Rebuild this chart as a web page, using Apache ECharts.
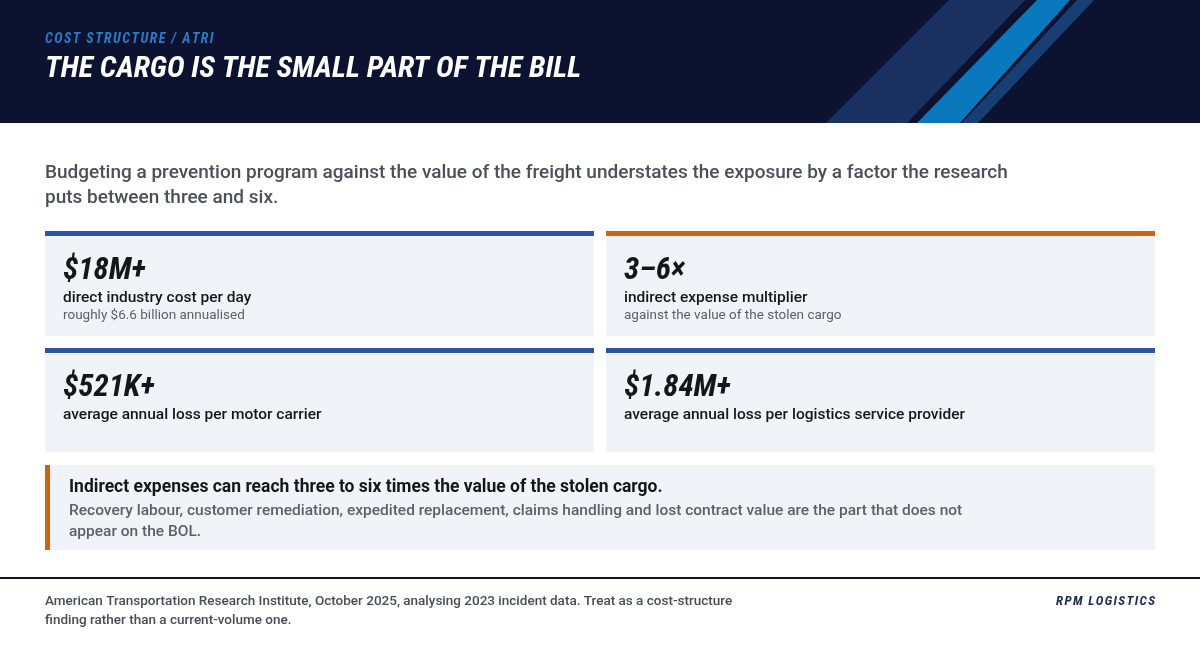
<!DOCTYPE html>
<html><head><meta charset="utf-8">
<script src="https://cdn.jsdelivr.net/npm/echarts@6/dist/echarts.min.js"></script>
<style>html,body{margin:0;padding:0;background:#fff}#main{width:1200px;height:658px}</style>
</head><body><div id="main"></div>
<script>
// content
var kicker = 'COST STRUCTURE / ATRI';
var title = 'THE CARGO IS THE SMALL PART OF THE BILL';
var lead = ['Budgeting a prevention program against the value of the freight understates the exposure by a factor the research',
            'puts between three and six.'];
var statValues = ['$18M+', '3\u20136\u00d7', '$521K+', '$1.84M+'];
var statLabels = ['direct industry cost per day', 'indirect expense multiplier',
                  'average annual loss per motor carrier', 'average annual loss per logistics service provider'];
var statNotes = ['roughly $6.6 billion annualised', 'against the value of the stolen cargo', '', ''];
var statAccent = ['blue', 'orange', 'blue', 'blue'];
var calloutHead = 'Indirect expenses can reach three to six times the value of the stolen cargo.';
var calloutBody = ['Recovery labour, customer remediation, expedited replacement, claims handling and lost contract value are the part that does not',
                   'appear on the BOL.'];
var source = ['American Transportation Research Institute, October 2025, analysing 2023 incident data. Treat as a cost-structure',
              'finding rather than a current-volume one.'];
var brand = 'RPM LOGISTICS';

var COND = '"Roboto Condensed", Roboto, sans-serif';
var SANS = 'Roboto, "Noto Sans", sans-serif';
var colors = { blue: '#2b55a0', orange: '#c8670f' };

var g = [];
// header
g.push({ type: 'rect', shape: { x: 0, y: 0, width: 1200, height: 123 }, style: { fill: '#0c1230' } });
g.push({ type: 'polygon', shape: { points: [[949, 0], [1025, 0], [907, 123], [826, 123]] }, style: { fill: '#1a3262' } });
g.push({ type: 'polygon', shape: { points: [[1037, 0], [1070, 0], [960, 123], [917, 123]] }, style: { fill: '#0a78bd' } });
g.push({ type: 'polygon', shape: { points: [[1077, 0], [1094, 0], [978, 123], [962, 123]] }, style: { fill: '#173f74' } });
g.push({ type: 'text', x: 45, y: 39, style: { text: kicker.split('').join('\u200a'), fill: '#2a7cc4', font: 'italic bold 14px ' + COND, verticalAlign: 'middle' } });
g.push({ type: 'text', x: 45, y: 69, style: { text: title, fill: '#ffffff', font: 'italic bold 30px ' + COND, verticalAlign: 'middle' } });

// lead
lead.forEach(function (t, i) {
  g.push({ type: 'text', x: 45, y: 173 + i * 25, style: { text: t, fill: '#4a4f5a', font: '500 19px ' + SANS, verticalAlign: 'middle' } });
});

// stat cards
for (var i = 0; i < statValues.length; i++) {
  var cx = i % 2 === 0 ? 45 : 606;
  var cy = i < 2 ? 231 : 348;
  var h = i < 2 ? 105 : 104;
  g.push({ type: 'rect', shape: { x: cx, y: cy, width: 549, height: h }, style: { fill: '#f0f4f8' } });
  g.push({ type: 'rect', shape: { x: cx, y: cy, width: 549, height: 5 }, style: { fill: colors[statAccent[i]] } });
  g.push({ type: 'text', x: cx + 18, y: cy + 40, style: { text: statValues[i], fill: '#14161c', font: 'italic bold 31px ' + COND, verticalAlign: 'middle' } });
  g.push({ type: 'text', x: cx + 18, y: cy + 67, style: { text: statLabels[i], fill: '#14161c', font: '500 15.5px ' + SANS, verticalAlign: 'middle' } });
  if (statNotes[i]) {
    g.push({ type: 'text', x: cx + 18, y: cy + 85, style: { text: statNotes[i], fill: '#5a5f68', font: '13.5px ' + SANS, verticalAlign: 'middle' } });
  }
}

// callout
g.push({ type: 'rect', shape: { x: 45, y: 465, width: 1110, height: 85 }, style: { fill: '#f0f4f8' } });
g.push({ type: 'rect', shape: { x: 45, y: 465, width: 5, height: 85 }, style: { fill: colors.orange } });
g.push({ type: 'text', x: 69, y: 488, style: { text: calloutHead, fill: '#14161c', font: 'bold 17.5px ' + SANS, verticalAlign: 'middle' } });
calloutBody.forEach(function (t, i) {
  g.push({ type: 'text', x: 69, y: 511 + i * 21, style: { text: t, fill: '#5a5f68', font: '500 15.5px ' + SANS, verticalAlign: 'middle' } });
});

// footer
g.push({ type: 'rect', shape: { x: 0, y: 577, width: 1200, height: 2 }, style: { fill: '#0c1230' } });
source.forEach(function (t, i) {
  g.push({ type: 'text', x: 45, y: 602 + i * 19, style: { text: t, fill: '#474c55', font: '500 13.5px ' + SANS, verticalAlign: 'middle' } });
});
g.push({ type: 'text', x: 1155, y: 602, style: { text: brand.split('').join('\u200a'), fill: '#1a2a50', font: 'italic bold 13px ' + COND, align: 'right', verticalAlign: 'middle' } });

var chart = echarts.init(document.getElementById('main'), null, { renderer: 'canvas' });
chart.setOption({ animation: false, graphic: { elements: g } });
</script>
</body></html>
